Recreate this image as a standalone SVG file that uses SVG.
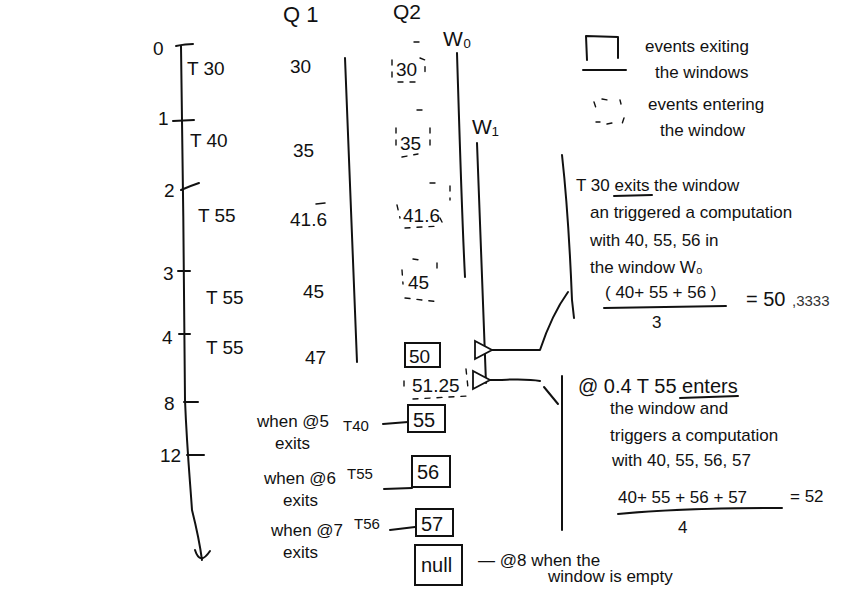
<svg xmlns="http://www.w3.org/2000/svg" width="864" height="592" viewBox="0 0 864 592">
<style>
text{font-family:"Liberation Sans","DejaVu Sans",sans-serif;fill:#111;font-size:19px}
.s{font-size:17px}
.l{fill:none;stroke:#111;stroke-width:2;stroke-linecap:round;stroke-linejoin:round}
.d{fill:none;stroke:#111;stroke-width:1.4;stroke-dasharray:5 7;stroke-linecap:round}
.b{fill:none;stroke:#111;stroke-width:2}
</style>
<defs>
<marker id="tri" markerWidth="22" markerHeight="24" refX="2" refY="11" orient="auto" markerUnits="userSpaceOnUse">
<path d="M19,2 L2,11 L19,20 Z" fill="#fff" stroke="#111" stroke-width="1.8"/>
</marker>
</defs>
<rect width="864" height="592" fill="#fff"/>

<g id="timeline">
<path class="l" d="M181,46 C183,150 184,300 185,400 C187,450 190,480 192,510 C197,530 200,545 202,560"/>
<path class="l" d="M195,550 Q200,566 210,551"/>
<path class="l" d="M176,46 Q186,44 193,44"/>
<path class="l" d="M173,121 L194,120"/>
<path class="l" d="M181,190 Q190,186 199,183"/>
<path class="l" d="M178,271 L190,271"/>
<path class="l" d="M179,334 L190,334"/>
<path class="l" d="M184,402 L198,402"/>
<path class="l" d="M187,455 L204,455"/>
<text x="153" y="55">0</text>
<text x="158" y="125">1</text>
<text x="164" y="197">2</text>
<text x="163" y="280">3</text>
<text x="162" y="344">4</text>
<text x="164" y="410">8</text>
<text x="160" y="462">12</text>
<text x="187" y="75">T 30</text>
<text x="190" y="147">T 40</text>
<text x="198" y="222">T 55</text>
<text x="206" y="304">T 55</text>
<text x="206" y="354">T 55</text>
</g>

<g id="q1">
<text x="283" y="22" style="font-size:22px">Q 1</text>
<text x="290" y="73">30</text>
<text x="293" y="157">35</text>
<text x="290" y="226">41.6</text>
<path class="l" d="M316,204 L325,203" style="stroke-width:1.5"/>
<text x="303" y="298">45</text>
<text x="305" y="364">47</text>
<path class="l" d="M345,58 C348,150 352,250 357,362"/>
</g>

<g id="q2">
<text x="393" y="19" style="font-size:21px">Q2</text>
<text x="396" y="76">30</text>
<path class="d" d="M392,60 L392,78 M420,58 L425,60 L425,78 M398,82 L420,82 M414,42 L420,42"/>
<text x="400" y="150">35</text>
<path class="d" d="M396,128 L396,150 M417,110 L423,110 M430,128 L430,148 M402,157 L418,154"/>
<text x="403" y="222">41.6</text>
<path class="d" d="M397,205 L400,218 M430,183 L438,183 M450,186 L450,200 M440,218 L442,222 M405,228 L440,226"/>
<text x="408" y="289">45</text>
<path class="d" d="M402,270 L403,284 M413,259 L420,260 M437,263 L437,275 M405,298 L440,302"/>
<rect x="405" y="343" width="35" height="24" class="b"/>
<text x="409" y="363">50</text>
<text x="412" y="392">51.25</text>
<path class="d" d="M404,381 L404,390 M466,369 L468,388 M413,399 L468,396"/>
</g>

<g id="w0">
<text x="443" y="46" style="font-size:21px">W₀</text>
<path class="l" d="M457,53 C460,150 462,220 465,277"/>
</g>

<g id="w1">
<text x="472" y="134" style="font-size:21px">W₁</text>
<path class="l" d="M477,143 C480,230 484,310 486,383"/>
</g>

<g id="legend">
<path class="l" d="M587,60 L586,36 L618,37 L618,58"/>
<path class="l" d="M583,70 L626,70"/>
<text x="645" y="52" class="s">events exiting</text>
<text x="655" y="78" class="s">the windows</text>
<path class="d" d="M594,102 L596,108 M602,99 L608,100 M620,100 L621,104 M596,122 L600,122 M607,124 L617,122 M624,118 L622,124"/>
<text x="648" y="110" class="s">events entering</text>
<text x="660" y="136" class="s">the window</text>
</g>

<g id="note1">
<path class="l" d="M562,155 C567,200 570,250 572,300 L574,318"/>
<text x="576" y="191" class="s">T 30 exits the window</text>
<path class="l" d="M614,196 L652,195"/>
<text x="590" y="218" class="s">an triggered a computation</text>
<text x="590" y="246" class="s">with 40, 55, 56 in</text>
<text x="590" y="273" class="s">the window W₀</text>
<text x="605" y="298" class="s">( 40+ 55 + 56 )</text>
<path class="l" d="M604,308 L726,306"/>
<text x="652" y="328" class="s">3</text>
<text x="746" y="306" style="font-size:20px">= 50</text>
<text x="792" y="306" style="font-size:15px;fill:#333">,3333</text>
</g>

<g id="note2">
<path class="l" d="M562,376 L562,530"/>
<text x="578" y="393" style="font-size:20px">@ 0.4 T 55 enters</text>
<path class="l" d="M680,398 L738,396"/>
<text x="610" y="414" class="s">the window and</text>
<text x="610" y="441" class="s">triggers a computation</text>
<text x="612" y="466" class="s">with 40, 55, 56, 57</text>
<text x="618" y="503" class="s">40+ 55 + 56 + 57</text>
<path class="l" d="M618,514 C680,508 740,508 782,508"/>
<text x="678" y="533" class="s">4</text>
<text x="790" y="502" class="s">= 52</text>
</g>

<g id="connectors">
<path class="l" d="M568,292 C555,310 545,335 540,350 L492,350" marker-end="url(#tri)"/>
<path class="l" d="M540,381 C525,378 510,380 490,380" marker-end="url(#tri)"/>
<path class="l" d="M544,387 L558,404"/>
</g>

<g id="exits">
<text x="257" y="427" class="s">when @5</text>
<text x="275" y="449" class="s">exits</text>
<text x="343" y="431" style="font-size:15px">T40</text>
<path class="l" d="M383,424 L408,422"/>
<rect x="408" y="405" width="37" height="27" class="b"/>
<text x="413" y="427" style="font-size:20px">55</text>

<text x="264" y="484" class="s">when @6</text>
<text x="283" y="506" class="s">exits</text>
<text x="347" y="479" style="font-size:15px">T55</text>
<path class="l" d="M384,489 L412,488"/>
<rect x="412" y="456" width="38" height="31" class="b"/>
<text x="417" y="479" style="font-size:20px">56</text>

<text x="271" y="536" class="s">when @7</text>
<text x="283" y="558" class="s">exits</text>
<text x="354" y="529" style="font-size:15px">T56</text>
<path class="l" d="M390,530 L415,527"/>
<rect x="416" y="509" width="37" height="27" class="b"/>
<text x="421" y="531" style="font-size:20px">57</text>

<rect x="415" y="545" width="47" height="40" class="b"/>
<text x="421" y="572" style="font-size:20px">null</text>
<text x="478" y="566" class="s">— @8 when the</text>
<text x="548" y="582" class="s">window is empty</text>
</g>
</svg>
